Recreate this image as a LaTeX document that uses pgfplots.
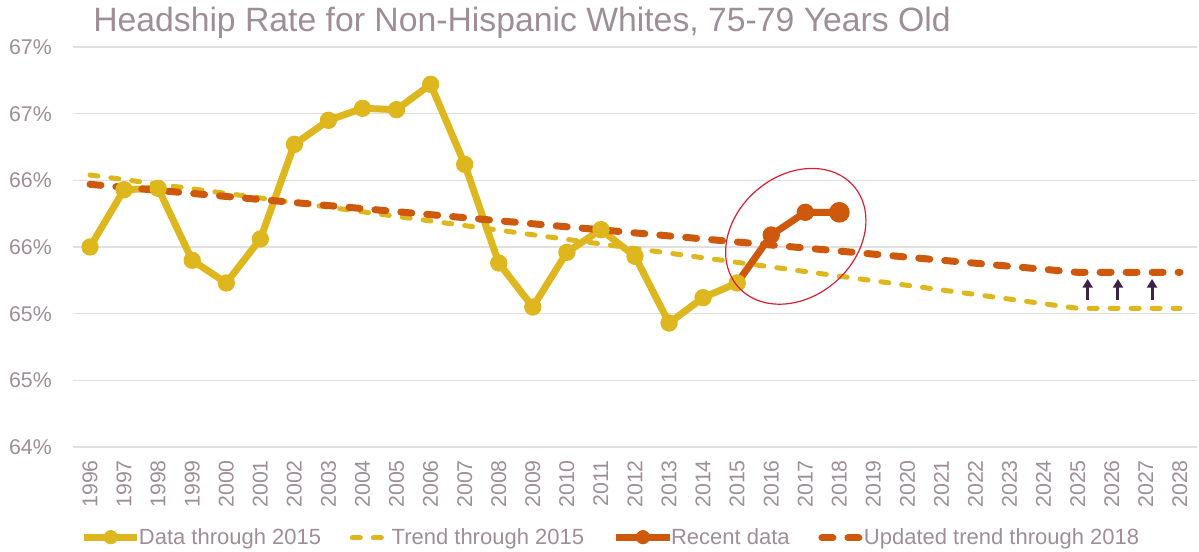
\documentclass[border=0pt]{standalone}
\usepackage{pgfplots}
\pgfplotsset{compat=1.18}
\usepackage{fontspec}
\setmainfont{Liberation Sans}
\usetikzlibrary{arrows.meta}
\definecolor{gold}{RGB}{222,182,30}
\definecolor{rust}{RGB}{206,88,12}
\definecolor{txt}{RGB}{158,142,152}
\definecolor{gridc}{RGB}{224,224,224}
\definecolor{arrowc}{RGB}{60,35,70}
\definecolor{ellc}{RGB}{220,30,50}
\pgfplotsset{
  legsolid/.style={legend image code/.code={\draw[##1] (0pt,0pt) -- (40pt,0pt); \fill[#1] (20pt,0.6pt) circle (2.8pt);}},
  legdash/.style 2 args={legend image code/.code={\draw[##1] (#1,0pt) -- (#2,0pt);}},
}
\begin{document}
\begin{tikzpicture}
\path[use as bounding box] (-54.75pt,-78.75pt) rectangle (844.5pt,335.25pt);
\begin{axis}[
  scale only axis, width=843pt, height=300pt,
  xmin=1995.5, xmax=2028.5, ymin=64, ymax=67,
  clip=false,
  xtick={1996,...,2028}, ytick={64,64.5,...,67},
  yticklabels={64\%,65\%,65\%,66\%,66\%,67\%,67\%},
  axis line style={draw=none}, major tick length=0pt,
  ymajorgrids, grid style={gridc, line width=0.9pt},
  x tick label style={rotate=90, anchor=east, inner sep=0pt, font=\fontsize{16}{19}\selectfont, text=txt},
  xticklabel shift=9.75pt,
  y tick label style={anchor=east, inner sep=0pt, font=\fontsize{16}{19}\selectfont, text=txt},
  yticklabel shift=15.75pt,
  /pgf/number format/.cd, 1000 sep={}, assume math mode=true, /pgfplots/.cd,
  legend columns=4,
  legend style={at={(0,0)}, anchor=west, xshift=5.5pt, yshift=-68.25pt, draw=none, fill=none, inner sep=0pt,
    font=\fontsize{16.5}{19}\selectfont, text=txt, nodes={inner sep=0pt},
    /tikz/every odd column/.append style={column sep=-1.5pt},
    /tikz/every even column/.append style={column sep=21.5pt}},
]
\addplot[gold, line width=5.25pt, line join=round, mark=*, mark size=6pt, mark options={solid, fill=gold, line width=1pt},
  legsolid=gold] coordinates {
(1996,65.50) (1997,65.93) (1998,65.94) (1999,65.40) (2000,65.23) (2001,65.56) (2002,66.27) (2003,66.45) (2004,66.54) (2005,66.53)
(2006,66.72) (2007,66.12) (2008,65.38) (2009,65.05) (2010,65.46) (2011,65.63) (2012,65.43) (2013,64.93) (2014,65.12) (2015,65.23)};
\addlegendentry{Data through 2015}
\addplot[gold, line width=3.75pt, dash pattern=on 6pt off 9.75pt, line cap=round,
  legdash={1.9pt}{31pt}] coordinates {
(1996,66.04) (2025,65.04) (2028,65.04)};
\addlegendentry{Trend through 2015}
\addplot[rust, line width=5.25pt, line join=round, mark=*, mark size=6pt, mark indices={2,3,4}, mark options={solid, fill=rust, line width=1pt},
  legsolid=rust] coordinates {
(2015,65.23) (2016,65.59) (2017,65.76) (2018,65.76)};
\addlegendentry{Recent data}
\addplot[rust, line width=5.25pt, dash pattern=on 8.25pt off 11.25pt, line cap=round,
  legdash={2.6pt}{33pt}] coordinates {
(1996,65.97) (2025,65.31) (2028,65.31)};
\addlegendentry{Updated trend through 2018}
\addplot[forget plot, rust, only marks, mark=*, mark size=7.25pt, mark options={fill=rust, line width=1pt}] coordinates {(2018,65.76)};
\addplot[forget plot, arrowc, line width=2.25pt, -{Triangle[length=6.5pt,width=7.5pt]}, quiver={u=0,v=0.16}, mark=none] coordinates {
(2025.29,65.10) (2026.18,65.10) (2027.18,65.10)};
\coordinate (ell) at (axis cs:2016.72,65.58);
\end{axis}
\draw[ellc, line width=0.9pt, rotate around={41:(ell)}] (ell) ellipse [x radius=57.5pt, y radius=45.3pt];
\node[anchor=base west, inner sep=0pt, font=\fontsize{25.3}{30}\selectfont, text=txt] at (15pt,311.25pt) {Headship Rate for Non-Hispanic Whites, 75-79 Years Old};
\end{tikzpicture}
\end{document}
